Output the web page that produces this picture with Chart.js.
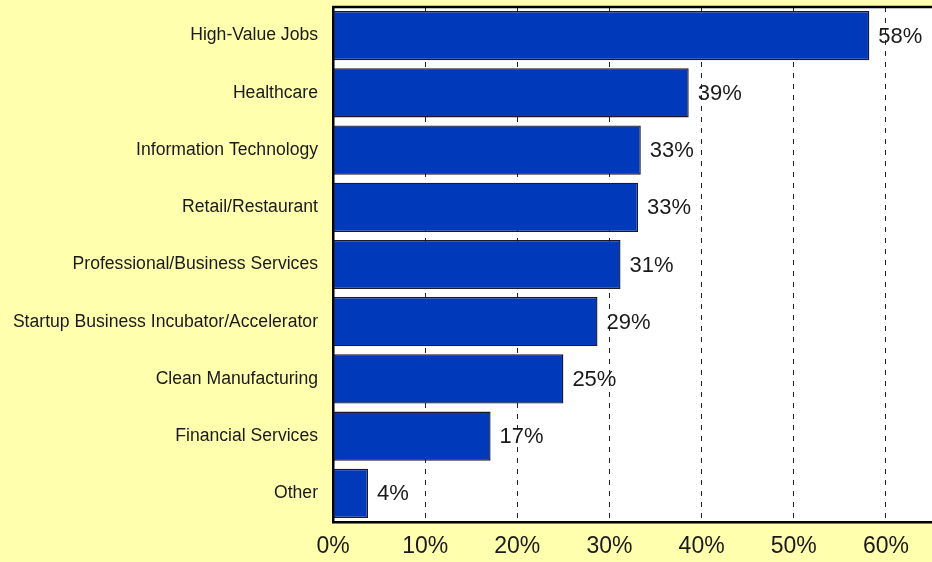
<!DOCTYPE html>
<html>
<head>
<meta charset="utf-8">
<script src="https://cdn.jsdelivr.net/npm/chart.js@4"></script>
<style>
  html, body { margin: 0; padding: 0; background: #ffffae; }
  #wrap { width: 932px; height: 562px; }
</style>
</head>
<body>
<div id="wrap"><canvas id="chart" width="932" height="562"></canvas></div>
<script>
const categories = [
  "High-Value Jobs",
  "Healthcare",
  "Information Technology",
  "Retail/Restaurant",
  "Professional/Business Services",
  "Startup Business Incubator/Accelerator",
  "Clean Manufacturing",
  "Financial Services",
  "Other",
];
const shares = [58.2, 38.6, 33.4, 33.1, 31.2, 28.7, 25.0, 17.1, 3.8];
const xTicks = [0, 10, 20, 30, 40, 50, 60];

const FONT = "'Liberation Sans', Arial, sans-serif";
const INK = "#1a1a1a";

// yellow page, white plot box with a black top edge
const backdrop = {
  id: "backdrop",
  beforeDraw(chart) {
    const { ctx, chartArea: a } = chart;
    ctx.save();
    ctx.fillStyle = "#ffffae";
    ctx.fillRect(0, 0, chart.width, chart.height);
    ctx.fillStyle = "#ffffff";
    ctx.fillRect(a.left, a.top, a.right - a.left, a.bottom - a.top);
    ctx.restore();
  },
  afterDraw(chart) {
    const { ctx, chartArea: a } = chart;
    ctx.save();
    ctx.strokeStyle = "#000";
    ctx.lineWidth = 2.5;
    ctx.beginPath();
    ctx.moveTo(a.left - 1, a.top);
    ctx.lineTo(a.right, a.top);
    ctx.stroke();
    ctx.restore();
  },
};

// percentage written just past the end of each bar
const valueLabels = {
  id: "valueLabels",
  afterDatasetsDraw(chart) {
    const { ctx } = chart;
    const meta = chart.getDatasetMeta(0);
    ctx.save();
    ctx.font = "22px " + FONT;
    ctx.fillStyle = INK;
    ctx.textBaseline = "middle";
    ctx.textAlign = "left";
    meta.data.forEach((bar, i) => {
      ctx.fillText(Math.round(shares[i]) + "%", bar.x + 9, bar.y + 1);
    });
    ctx.restore();
  },
};

const noPad = (scale) => {
  scale.paddingTop = 0;
  scale.paddingBottom = 0;
  scale.paddingLeft = 0;
  scale.paddingRight = 0;
};

new Chart(document.getElementById("chart"), {
  type: "bar",
  data: {
    labels: categories,
    datasets: [
      {
        data: shares,
        backgroundColor: "#0039b9",
        borderColor: "#1a1a2c",
        borderWidth: 1.4,
        borderSkipped: false,
        barPercentage: 0.86,
        categoryPercentage: 1,
      },
    ],
  },
  options: {
    indexAxis: "y",
    responsive: false,
    animation: false,
    layout: { padding: { top: 7, left: 0, right: 0, bottom: 0 } },
    plugins: {
      legend: { display: false },
      tooltip: { enabled: false },
    },
    scales: {
      x: {
        min: 0,
        max: 65,
        afterBuildTicks(scale) {
          scale.ticks = xTicks.map((v) => ({ value: v }));
        },
        afterFit(scale) {
          scale.height = 40;
          noPad(scale);
        },
        grid: {
          color: "#222",
          lineWidth: 1,
          drawTicks: false,
        },
        border: { display: true, color: "#000", width: 2.5, dash: [5, 6] },
        ticks: {
          padding: 11,
          color: INK,
          font: { family: FONT, size: 23 },
          callback: (v) => v + "%",
        },
      },
      y: {
        afterFit(scale) {
          scale.width = 333;
          noPad(scale);
        },
        grid: { display: false, drawTicks: false },
        border: { display: true, color: "#000", width: 2.5 },
        ticks: {
          padding: 15,
          color: INK,
          font: { family: FONT, size: 17.6 },
        },
      },
    },
  },
  plugins: [backdrop, valueLabels],
});
</script>
</body>
</html>
